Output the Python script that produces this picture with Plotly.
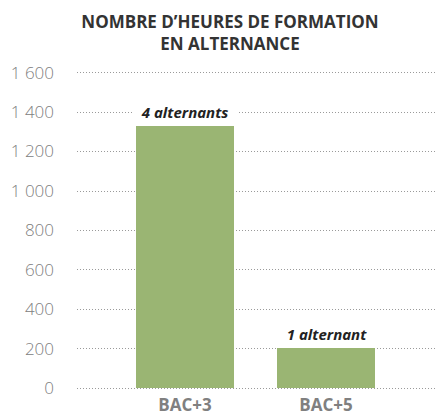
import plotly.graph_objects as go

categories = ["BAC+3", "BAC+5"]
hours = [1330, 205]
bar_labels = ["4 alternants", "1 alternant"]
y_tickvals = [0, 200, 400, 600, 800, 1000, 1200, 1400, 1600]
y_ticktext = ["0", "200", "400", "600", "800", "1 000", "1 200", "1 400", "1 600"]

FONT = "Open Sans"
fig = go.Figure()
fig.add_trace(go.Bar(
    x=[0, 1], y=hours, width=0.695,
    marker=dict(color="#9AB573", line=dict(width=0)),
    hoverinfo="skip",
))
for i, (v, t) in enumerate(zip(hours, bar_labels)):
    fig.add_annotation(
        x=i, y=v, yref="y", xref="x",
        text=f"<b><i>&nbsp;&nbsp;{t}&nbsp;&nbsp;</i></b>",
        showarrow=False, yanchor="bottom", yshift=2,
        font=dict(family=FONT, size=15, color="#222"),
        bgcolor="white", borderpad=1,
    )

fig.update_layout(
    width=436, height=416,
    margin=dict(l=77, r=0, t=71, b=26),
    paper_bgcolor="white", plot_bgcolor="white",
    showlegend=False,
    bargap=0,
    title=dict(
        text="<b>NOMBRE D’HEURES DE FORMATION<br>EN ALTERNANCE</b>",
        x=230/436, xanchor="center", y=1-28/416, yanchor="middle",
        font=dict(family=FONT, size=17, color="#333"),
    ),
    font=dict(family=FONT),
)
fig.update_xaxes(
    range=[-0.766, 1.78], automargin=False,
    tickvals=[0, 1], ticktext=[f"<b>{c}</b>" for c in categories],
    tickfont=dict(family=FONT, size=17, color="#808080"),
    showgrid=False, zeroline=False, showline=False, ticks="",
    ticklabelstandoff=3,
)
fig.update_yaxes(
    range=[-8, 1608], automargin=False,
    tickvals=y_tickvals, ticktext=y_ticktext,
    tickfont=dict(family=FONT, size=17, color="#808080", weight=300),
    showgrid=True, gridcolor="#9a9a9a", griddash="1px,2px", gridwidth=1,
    zeroline=False, showline=False, ticks="", ticklabelstandoff=22,
)
fig.write_html("out.html", config={"displayModeBar": False},
               post_script="document.body.style.margin='0';")
